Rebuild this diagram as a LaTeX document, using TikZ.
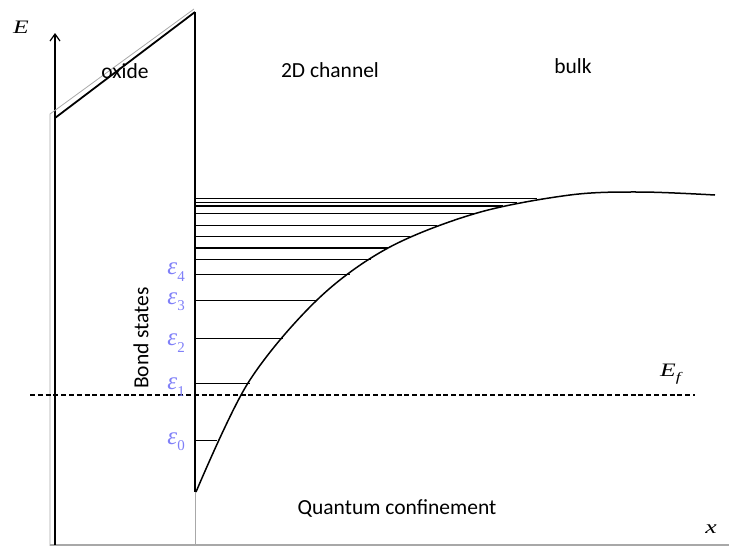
\documentclass[tikz,border=0pt]{standalone}
\usepackage{fontspec}
\setmainfont{Carlito}
\newfontfamily\serifit{Liberation Serif}
\usetikzlibrary{arrows.meta}
\definecolor{LevelBlue}{HTML}{8080F8}
\definecolor{EdgeGray}{HTML}{A8A8A8}
\newcommand\widesym[1]{\scalebox{1.35}[1]{#1}}

\tikzset{
  lbl/.style={font=\fontsize{21.5}{24}\selectfont, inner sep=0pt},
  sym/.style={font=\serifit\itshape\fontsize{19}{22}\selectfont, inner sep=0pt},
  eps/.style={text=LevelBlue, font=\serifit\itshape\fontsize{25}{27}\selectfont, inner sep=0pt},
  level/.style={line width=0.7pt},
  thicklevel/.style={line width=1.6pt},
  edge/.style={EdgeGray, line width=0.8pt},
}

\begin{document}
\begin{tikzpicture}[x=1pt, y=-1pt]
  \useasboundingbox (0,0) rectangle (729,546);

  % axes
  \coordinate (origin) at (55,545);
  \coordinate (ytop) at (55,33);
  \coordinate (xend) at (729,545);
  \draw[edge, line width=1.4pt] (50,545) -- (xend);
  \draw[line width=1.2pt, -{Straight Barb[length=7pt, width=10pt]}] (origin) -- (ytop);

  % oxide barrier
  \draw[edge] (50,546) -- (50,114) -- (194,9);
  \draw[line width=1.8pt] (55,118) -- (195,12);
  \draw[line width=2.8pt] (195,12) -- (195,492);
  \draw[edge] (195,492) -- (195,546);

  % conduction band
  \draw[line width=1.5pt] plot[smooth, tension=0.55] coordinates {
    (196,492) (248,383) (317,300) (388,248) (477,213) (570,195)
    (640,192) (715,195)};

  % sub-band levels
  \foreach \y/\xe in {198.3/537, 202.3/517, 213.3/477, 225/437, 236.7/410,
                      259.3/371, 274.3/350, 300/317, 338.3/283, 383.3/250, 440/217}
    \draw[level] (196,\y) -- (\xe,\y);
  \foreach \y/\xe in {205.7/503, 247.7/388}
    \draw[thicklevel] (196,\y) -- (\xe,\y);

  % Fermi level
  \draw[line width=1.5pt, dash pattern=on 5pt off 2.8pt] (30,395) -- (695,395);

  % labels
  \node[sym] (Elabel) at (21,27) {\widesym{E}};
  \node[sym] (xlabel) at (711,529) {\widesym{x}};
  \node[sym, anchor=west] (Ef) at (660,374) {\widesym{E}\raisebox{-0.55ex}{\fontsize{13}{14}\selectfont\widesym{f}}};
  \node[lbl] (oxide) at (125,71) {oxide};
  \node[lbl] (channel) at (330,70) {2D channel};
  \node[lbl] (bulk) at (573,66) {bulk};
  \node[lbl] (confine) at (397,508) {Quantum confinement};
  \node[lbl, rotate=90] (bond) at (141,338) {Bond states};
  \foreach \n/\y in {4/272, 3/302, 2/343, 1/387, 0/442}
    \node[eps, anchor=east] (eps\n) at (185,\y) {ε\raisebox{-0.55ex}{\upshape\fontsize{15}{16}\selectfont\n}};
\end{tikzpicture}
\end{document}
